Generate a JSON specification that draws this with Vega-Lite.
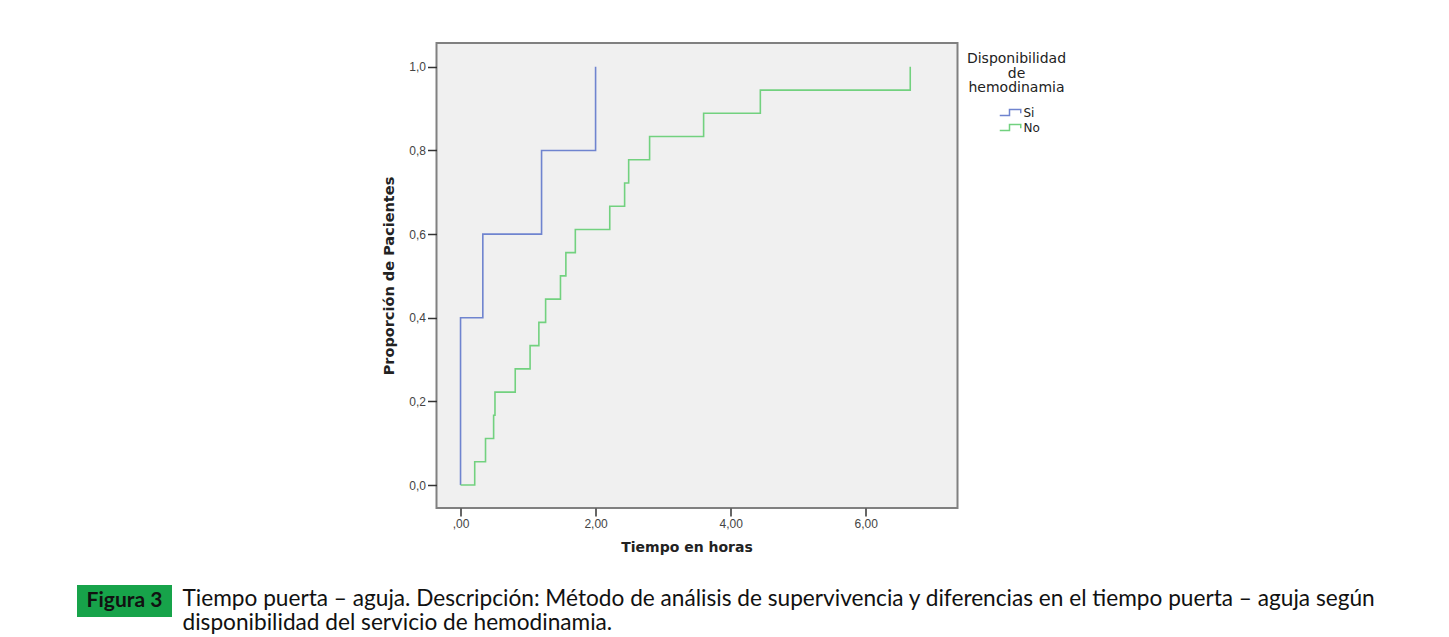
{
  "$schema": "https://vega.github.io/schema/vega-lite/v6.json",
  "background": "white",
  "padding": {"left": 77, "top": 42, "right": 0, "bottom": 0},
  "config": {
    "font": "Liberation Sans",
    "view": {"stroke": null}
  },
  "center": true,
  "spacing": 30,
  "resolve": {"scale": {"color": "independent"}, "legend": {"color": "independent"}},
  "datasets": {
    "km": [
      {"grupo": "Si", "tiempo": 0.0, "prop": 0.0},
      {"grupo": "Si", "tiempo": 0.0, "prop": 0.4},
      {"grupo": "Si", "tiempo": 0.33, "prop": 0.6},
      {"grupo": "Si", "tiempo": 1.2, "prop": 0.8},
      {"grupo": "Si", "tiempo": 2.0, "prop": 1.0},
      {"grupo": "No", "tiempo": 0.0, "prop": 0.0},
      {"grupo": "No", "tiempo": 0.21, "prop": 0.0556},
      {"grupo": "No", "tiempo": 0.37, "prop": 0.1111},
      {"grupo": "No", "tiempo": 0.49, "prop": 0.1667},
      {"grupo": "No", "tiempo": 0.51, "prop": 0.2222},
      {"grupo": "No", "tiempo": 0.81, "prop": 0.2778},
      {"grupo": "No", "tiempo": 1.03, "prop": 0.3333},
      {"grupo": "No", "tiempo": 1.16, "prop": 0.3889},
      {"grupo": "No", "tiempo": 1.26, "prop": 0.4444},
      {"grupo": "No", "tiempo": 1.48, "prop": 0.5},
      {"grupo": "No", "tiempo": 1.56, "prop": 0.5556},
      {"grupo": "No", "tiempo": 1.7, "prop": 0.6111},
      {"grupo": "No", "tiempo": 2.21, "prop": 0.6667},
      {"grupo": "No", "tiempo": 2.43, "prop": 0.7222},
      {"grupo": "No", "tiempo": 2.49, "prop": 0.7778},
      {"grupo": "No", "tiempo": 2.8, "prop": 0.8333},
      {"grupo": "No", "tiempo": 3.6, "prop": 0.8889},
      {"grupo": "No", "tiempo": 4.44, "prop": 0.9444},
      {"grupo": "No", "tiempo": 6.66, "prop": 1.0}
    ],
    "fig": [{"label": "Figura 3"}],
    "cap": [{"texto": ["Tiempo puerta – aguja. Descripción: Método de análisis de supervivencia y diferencias en el tiempo puerta – aguja según", "disponibilidad del servicio de hemodinamia."]}],
    "blank": [{"label": ""}]
  },
  "vconcat": [
    {
      "width": 521,
      "height": 465,
      "view": {"fill": "#f0f0f0", "stroke": "#808080", "strokeWidth": 2},
      "data": {"name": "km"},
      "mark": {"type": "line", "interpolate": "step-after", "strokeWidth": 1.6},
      "encoding": {
        "x": {
          "field": "tiempo", "type": "quantitative",
          "scale": {"domain": [-0.356, 7.36], "nice": false, "zero": false},
          "axis": {
            "values": [0, 2, 4, 6],
            "labelExpr": "datum.value == 0 ? ',00' : replace(format(datum.value, '.2f'), '.', ',')",
            "title": "Tiempo en horas",
            "titleFont": "DejaVu Sans", "titleFontSize": 14, "titleFontWeight": "bold", "titleColor": "#222",
            "titlePadding": 11, "titleX": 250,
            "labelFontSize": 12, "labelColor": "#444", "labelPadding": 2,
            "tickSize": 8, "tickColor": "#333", "tickWidth": 1.5,
            "domain": false, "grid": false
          }
        },
        "y": {
          "field": "prop", "type": "quantitative",
          "scale": {"domain": [-0.055, 1.057], "nice": false, "zero": false},
          "axis": {
            "values": [0, 0.2, 0.4, 0.6, 0.8, 1.0],
            "labelExpr": "replace(format(datum.value, '.1f'), '.', ',')",
            "title": "Proporción de Pacientes",
            "titleFont": "DejaVu Sans", "titleFontSize": 14.5, "titleFontWeight": "bold", "titleColor": "#222",
            "titlePadding": 12,
            "labelFontSize": 12, "labelColor": "#444", "labelPadding": 2,
            "tickSize": 9, "tickColor": "#333", "tickWidth": 1.5,
            "domain": false, "grid": false
          }
        },
        "color": {
          "field": "grupo", "type": "nominal",
          "scale": {"domain": ["Si", "No"], "range": ["#6f84cf", "#72d17f"]},
          "legend": {
            "title": ["Disponibilidad", "de", "hemodinamia"],
            "titleAlign": "center", "titleAnchor": "middle",
            "titleFont": "DejaVu Sans",
            "titleFontSize": 14, "titleFontWeight": "normal", "titleColor": "#222",
            "titleLineHeight": 14.5, "titlePadding": 9,
            "labelFont": "DejaVu Sans",
            "labelFontSize": 12, "labelColor": "#222", "labelOffset": 4,
            "symbolType": "M-1.5,0.4H-0.2V-0.4H1.3V0.1",
            "symbolSize": 225, "symbolStrokeWidth": 1.5,
            "symbolOffset": 10, "rowPadding": 0,
            "offset": 0, "padding": 9
          }
        }
      }
    },
    {
      "hconcat": [
        {
          "width": 95,
          "height": 32,
          "view": {"fill": "#17a34a", "stroke": null},
          "data": {"name": "fig"},
          "mark": {"type": "text", "font": "Lato", "fontSize": 21, "fontWeight": "bold", "color": "#111", "baseline": "middle", "align": "center"},
          "encoding": {"text": {"field": "label"}}
        },
        {
          "width": 1,
          "height": 27,
          "data": {"name": "cap"},
          "mark": {"type": "text", "font": "Lato", "fontSize": 22.65, "color": "#111", "baseline": "middle", "align": "left", "lineHeight": 24.5},
          "encoding": {"text": {"field": "texto"}}
        },
        {
          "width": 50,
          "height": 26,
          "data": {"name": "blank"},
          "mark": {"type": "text"},
          "encoding": {"text": {"field": "label"}}
        }
      ],
      "spacing": 10
    }
  ]
}
